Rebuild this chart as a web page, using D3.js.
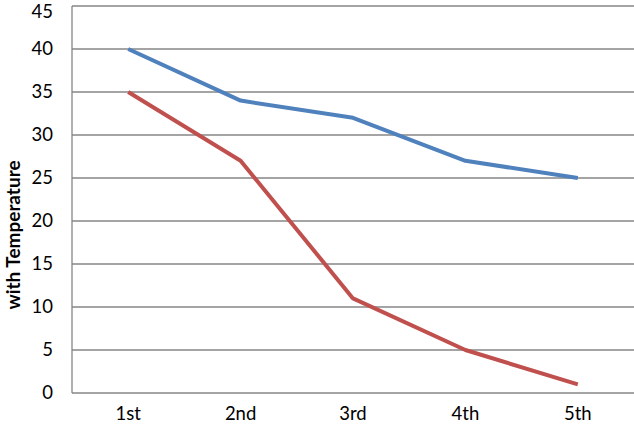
<!DOCTYPE html>
<html><head><meta charset="utf-8">
<script src="https://cdn.jsdelivr.net/npm/d3@7"></script>
<style>body{margin:0;background:#fff}text{font-family:Lato,"Open Sans","Liberation Sans",sans-serif}</style>
</head><body><svg id="c" width="634" height="427"></svg>
<script>
const categories = ["1st","2nd","3rd","4th","5th"];
const blueValues = [40,34,32,27,25];
const redValues = [35,27,11,5,1];
const yTicks = [0,5,10,15,20,25,30,35,40,45];
const yLabel = "with Temperature";

const svg = d3.select("#c");
const m = {l:72, r:0, t:6, b:34};
const W = 634, H = 427;
const x = d3.scaleBand().domain(categories).range([m.l, W - m.r]);
const y = d3.scaleLinear().domain([0,45]).range([H - m.b, m.t]);

svg.append("g").selectAll("line").data(yTicks).join("line")
  .attr("x1", m.l).attr("x2", W).attr("y1", d => y(d)).attr("y2", d => y(d))
  .attr("stroke", "#868686").attr("stroke-width", 1.3);
svg.append("line").attr("x1", m.l).attr("x2", m.l).attr("y1", y(45)).attr("y2", y(0))
  .attr("stroke", "#868686").attr("stroke-width", 1.3);

svg.append("g").selectAll("text").data(yTicks).join("text")
  .attr("x", 53).attr("y", d => y(d)).attr("dy", d => d === 45 ? "0.65em" : "0.35em").attr("text-anchor", "end")
  .attr("font-size", 18.5).attr("fill", "#000").text(d => d);

svg.append("g").selectAll("text").data(categories).join("text")
  .attr("x", d => x(d) + x.bandwidth()/2).attr("y", 420).attr("text-anchor", "middle")
  .attr("font-size", 18.5).attr("fill", "#000").text(d => d);

svg.append("text").attr("transform", "translate(20,235) rotate(-90)")
  .attr("text-anchor", "middle").attr("font-size", 19).attr("font-weight", "bold").text(yLabel);

const line = d3.line().x((d,i) => x(categories[i]) + x.bandwidth()/2).y(d => y(d));
svg.append("path").datum(blueValues).attr("d", line).attr("fill", "none")
  .attr("stroke", "#4F81BD").attr("stroke-width", 4).attr("stroke-linejoin", "round");
svg.append("path").datum(redValues).attr("d", line).attr("fill", "none")
  .attr("stroke", "#C0504D").attr("stroke-width", 4).attr("stroke-linejoin", "round");
</script></body></html>
